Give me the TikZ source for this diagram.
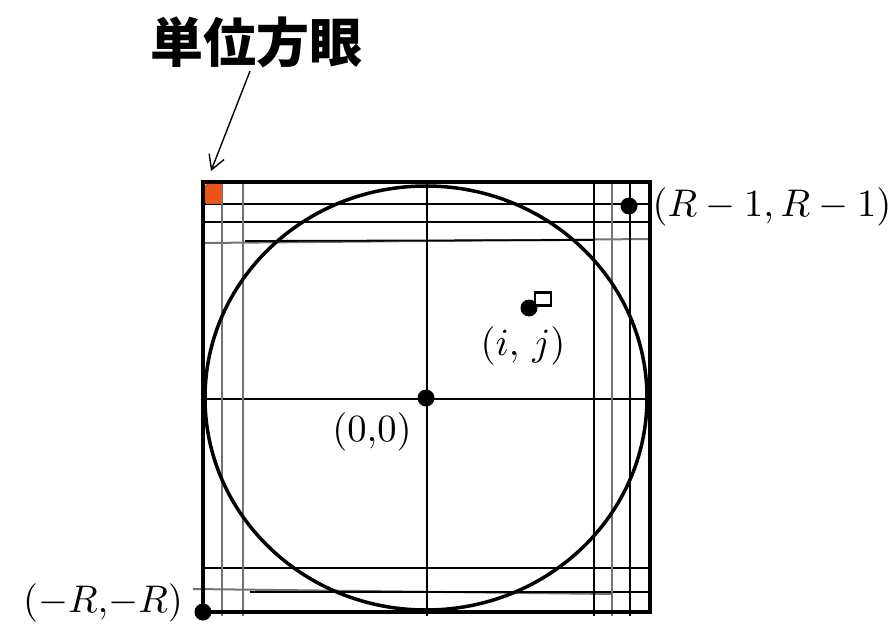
\documentclass[tikz,border=0pt]{standalone}
\usepackage{fontspec}
\newfontfamily\cjk{Noto Sans CJK JP}
\usepackage{tikz}
\usetikzlibrary{arrows.meta}
\definecolor{cellorange}{RGB}{232,86,26}

\begin{document}
\begin{tikzpicture}[x=1pt, y=-1pt,
    thinline/.style={line width=1.8pt},
    grayline/.style={line width=2pt, black!55},
    dot/.style={circle, fill=black, inner sep=0pt, minimum size=17pt},
    coord/.style={scale=3.85, transform shape}]
    \useasboundingbox (0,0) rectangle (894,631);

    % Grid lines near the border
    \foreach \y in {204, 222, 399, 568} {
        \draw[thinline] (203,\y) -- (650,\y);
    }
    \draw[grayline] (203,243) -- (650,239);
    \draw[thinline] (245,241) -- (594,240);
    \draw[grayline] (193,589) -- (612,594);
    \draw[thinline] (250,592) -- (650,592);
    \foreach \x in {427, 594, 630} {
        \draw[thinline] (\x,182) -- (\x,616);
    }
    \foreach \x in {222, 243, 612} {
        \draw[grayline] (\x,182) -- (\x,616);
    }

    % Disc of radius R
    \draw[line width=3.5pt] (426,398) ellipse [x radius=221, y radius=212];

    % Outer square
    \draw[line width=4pt] (203,182) rectangle (650,612);

    % Unit cell
    \node[fill=cellorange, rounded corners=2pt, inner sep=0pt,
          minimum width=17pt, minimum height=20pt] (cell) at (213.5,194) {};

    % Lattice points
    \node[dot] (origin) at (426,398) {};
    \node[draw, line width=2.2pt, fill=white, inner sep=0pt,
          minimum width=16pt, minimum height=13pt] (box) at (543,299) {};
    \node[dot] (ij) at (529,308) {};
    \node[dot] (corner) at (629,206) {};
    \node[dot] (mincorner) at (203,612) {};

    \node[coord] (lblcorner) at (772,207) {$(R-1,R-1)$};
    \node[coord] (lblorigin) at (372,432) {$(0{,}0)$};
    \node[coord] (lblij) at (523,346) {$(i,\,j)$};
    \node[coord] (lblmin) at (103,603) {$(-R{,}{-R})$};

    % Caption and arrow
    \node[font=\cjk\bfseries\fontsize{53}{55}\selectfont] (title) at (256,42) {単位方眼};
    \coordinate (tip) at (211,171);
    \draw[-{Straight Barb[length=14pt,width=16pt]}, line width=1.4pt]
        ([xshift=-6pt]title.south) -- (tip);
\end{tikzpicture}
\end{document}
